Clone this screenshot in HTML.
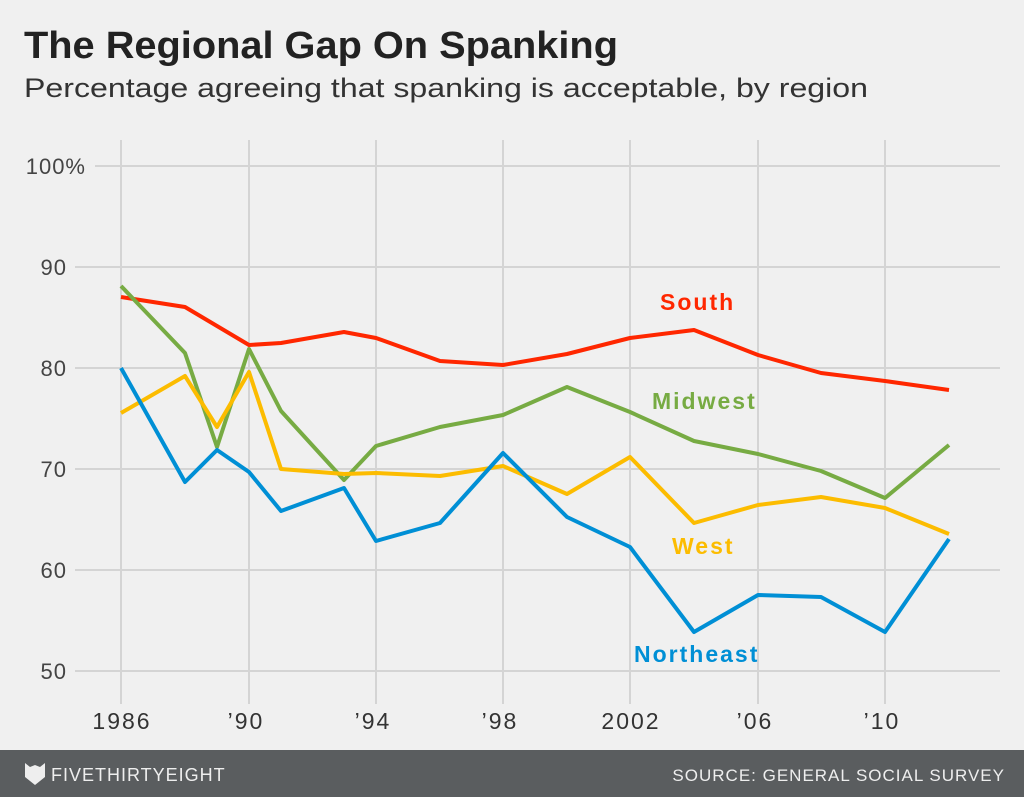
<!DOCTYPE html>
<html><head><meta charset="utf-8"><style>
body{margin:0;width:1024px;height:797px;background:#f0f0f0;overflow:hidden;font-family:"Liberation Sans",sans-serif}
</style></head><body>
<svg width="1024" height="797" xmlns="http://www.w3.org/2000/svg" style="position:absolute;left:0;top:0">
<rect width="1024" height="797" fill="#f0f0f0"/>
<text x="24" y="58" font-size="38" font-weight="bold" fill="#222" textLength="594" lengthAdjust="spacingAndGlyphs">The Regional Gap On Spanking</text>
<text x="24" y="97" font-size="27" fill="#333" textLength="844" lengthAdjust="spacingAndGlyphs">Percentage agreeing that spanking is acceptable, by region</text>
<g stroke="#d4d4d4" stroke-width="2">
<line x1="95" y1="166" x2="1000" y2="166"/>
<line x1="75" y1="267" x2="1000" y2="267"/>
<line x1="75" y1="368" x2="1000" y2="368"/>
<line x1="75" y1="469" x2="1000" y2="469"/>
<line x1="75" y1="570" x2="1000" y2="570"/>
<line x1="75" y1="671" x2="1000" y2="671"/>
<line x1="121" y1="140" x2="121" y2="704"/>
<line x1="249" y1="140" x2="249" y2="704"/>
<line x1="376" y1="140" x2="376" y2="704"/>
<line x1="503" y1="140" x2="503" y2="704"/>
<line x1="630" y1="140" x2="630" y2="704"/>
<line x1="758" y1="140" x2="758" y2="704"/>
<line x1="885" y1="140" x2="885" y2="704"/>
</g>
<g font-size="22" fill="#444" letter-spacing="1">
<text x="86" y="174" text-anchor="end">100%</text>
<text x="67" y="275" text-anchor="end">90</text>
<text x="67" y="376" text-anchor="end">80</text>
<text x="67" y="477" text-anchor="end">70</text>
<text x="67" y="578" text-anchor="end">60</text>
<text x="67" y="679" text-anchor="end">50</text>
</g>
<g font-size="23" fill="#333" text-anchor="middle" letter-spacing="2">
<text x="122" y="729">1986</text>
<text x="246" y="729">’90</text>
<text x="373" y="729">’94</text>
<text x="500" y="729">’98</text>
<text x="631" y="729">2002</text>
<text x="755" y="729">’06</text>
<text x="882" y="729">’10</text>
</g>
<g fill="none" stroke-width="4" stroke-linejoin="round">
<polyline stroke="#ff2700" points="121,297 185,307 217,326 249,345 281,343 344,332 376,338 440,361 503,365 567,354 630,338 694,330 758,355 821,373 885,381 949,390"/>
<polyline stroke="#77ab43" points="121,286 185,353 217,447 249,349 281,411 344,480 376,446 440,427 503,415 567,387 630,412 694,441 758,454 821,471 885,498 949,445"/>
<polyline stroke="#fcbc00" points="121,413 185,376 217,427 249,372 281,469 344,474 376,473 440,476 503,466 567,494 630,457 694,523 758,505 821,497 885,508 949,534"/>
<polyline stroke="#008fd5" points="121,368 185,482 217,450 249,472 281,511 344,488 376,541 440,523 503,453 567,517 630,547 694,632 758,595 821,597 885,632 949,539"/>
</g>
<g font-size="23" font-weight="bold" letter-spacing="2">
<text x="660" y="310" fill="#ff2700">South</text>
<text x="652" y="409" fill="#77ab43">Midwest</text>
<text x="672" y="554" fill="#fcbc00">West</text>
<text x="634" y="662" fill="#008fd5">Northeast</text>
</g>
<rect x="0" y="750" width="1024" height="47" fill="#5a5d5f"/>
<path d="M25,763 L30,767 L35,765 L40,767 L45,763 L45,777 L35,785 L25,777 Z" fill="#eee"/>
<text x="51" y="781" font-size="18" fill="#eee" letter-spacing="1">FIVETHIRTYEIGHT</text>
<text x="1005" y="781" font-size="17" fill="#eee" text-anchor="end" letter-spacing="1">SOURCE: GENERAL SOCIAL SURVEY</text>
</svg>
</body></html>
